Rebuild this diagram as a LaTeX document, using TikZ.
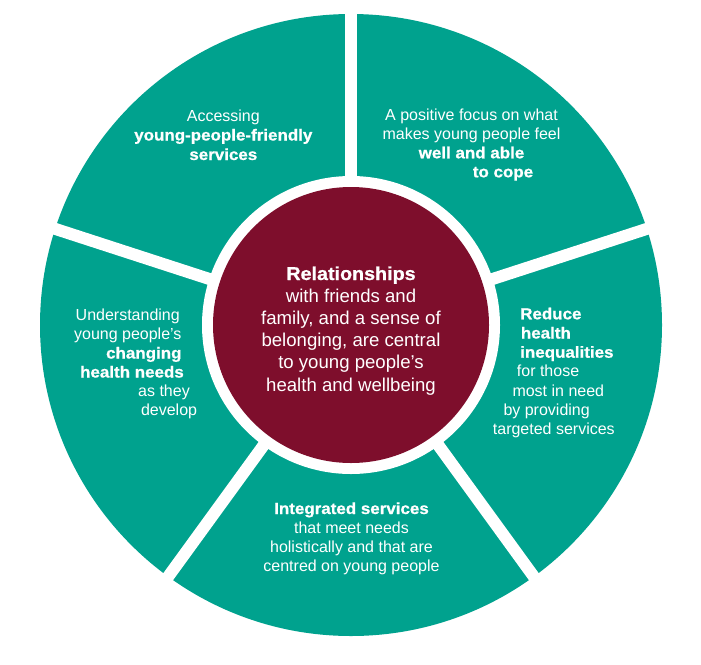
\documentclass[tikz,border=0pt]{standalone}
\usepackage{fontspec}
\setmainfont{Liberation Sans}[BoldFeatures={FakeStretch=1.06,FakeBold=0.8}]
\definecolor{segteal}{HTML}{00A28E}
\definecolor{hubred}{HTML}{7E0E2C}
\begin{document}
\begin{tikzpicture}[x=1pt,y=-1pt,
  seg/.style={fill=segteal},
  gap/.style={draw=white, line width=12pt},
  lbl/.style={text=white, inner sep=0pt, font=\fontsize{16}{19}\selectfont},
  clbl/.style={text=white, inner sep=0pt, anchor=base, font=\fontsize{18.6}{22}\selectfont},
]
\useasboundingbox[fill=white] (0,0) rectangle (701,664);
\coordinate (C) at (351,325);
% outer ring
\fill[segteal] (C) circle[radius=311];
\foreach \a in {-90,-18,54,126,-162}
  \draw[gap] (C) -- ++(\a:330);
\fill[white] (C) circle[radius=149];
\fill[hubred] (C) circle[radius=138];

% centre text
\node[clbl] (c1) at (351,280) {\bfseries Relationships};
\node[clbl] (c2) at (351,302.3) {with friends and};
\node[clbl] (c3) at (351,324.5) {family, and a sense of};
\node[clbl] (c4) at (351,346.7) {belonging, are central};
\node[clbl] (c5) at (351,368.9) {to young people’s};
\node[clbl] (c6) at (351,391.1) {health and wellbeing};

% top-left segment
\node[lbl, anchor=base] (tl1) at (223.3,121) {Accessing};
\node[lbl, anchor=base] (tl2) at (223.3,140.5) {\bfseries young-people-friendly};
\node[lbl, anchor=base] (tl3) at (223.3,160) {\bfseries services};

% top-right segment
\node[lbl, anchor=base] (tr1) at (471.5,120) {A positive focus on what};
\node[lbl, anchor=base] (tr2) at (471.5,139.3) {makes young people feel};
\node[lbl, anchor=base] (tr3) at (471.5,158.3) {\bfseries well and able};
\node[lbl, anchor=base] (tr4) at (503,177.3) {\bfseries to cope};

% left segment
\node[lbl, anchor=base east] (l1) at (180,320) {Understanding};
\node[lbl, anchor=base east] (l2) at (181.7,339.5) {young people’s};
\node[lbl, anchor=base east] (l3) at (181.7,358.5) {\bfseries changing};
\node[lbl, anchor=base east] (l4) at (184,377.5) {\bfseries health needs};
\node[lbl, anchor=base east] (l5) at (190,396.5) {as they};
\node[lbl, anchor=base east] (l6) at (197.3,415.5) {develop};

% right segment
\node[lbl, anchor=base west] (r1) at (520,319.3) {\bfseries Reduce};
\node[lbl, anchor=base west] (r2) at (520.7,338.5) {\bfseries health};
\node[lbl, anchor=base west] (r3) at (520,357.7) {\bfseries inequalities};
\node[lbl, anchor=base west] (r4) at (516.7,376.9) {for those};
\node[lbl, anchor=base west] (r5) at (512.3,396.1) {most in need};
\node[lbl, anchor=base west] (r6) at (503.3,415.3) {by providing};
\node[lbl, anchor=base west] (r7) at (492.7,434.5) {targeted services};

% bottom segment
\node[lbl, anchor=base] (b1) at (351.5,514) {\bfseries Integrated services};
\node[lbl, anchor=base] (b2) at (351.5,533.3) {that meet needs};
\node[lbl, anchor=base] (b3) at (351.5,552.5) {holistically and that are};
\node[lbl, anchor=base] (b4) at (351.5,571.7) {centred on young people};
\end{tikzpicture}
\end{document}
